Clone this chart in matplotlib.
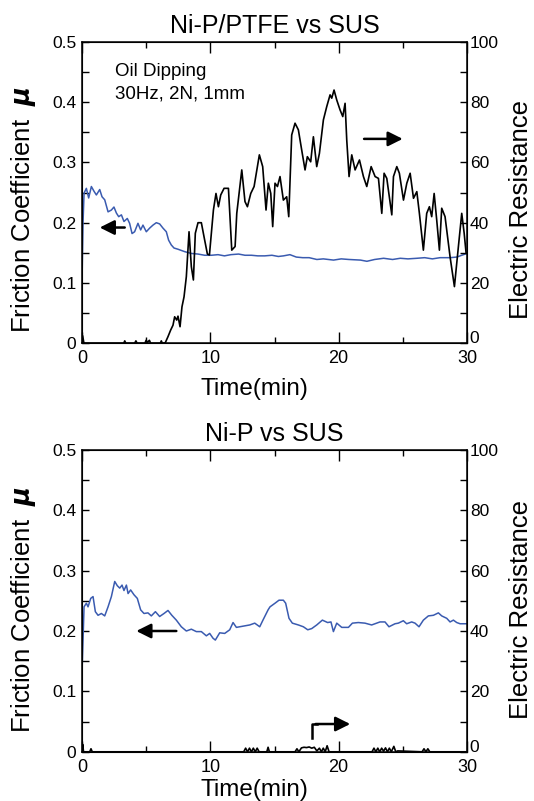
import matplotlib
matplotlib.use("Agg")
import matplotlib.pyplot as plt
import matplotlib.transforms as mtrans
from matplotlib.ticker import MultipleLocator, FuncFormatter

plt.rcParams['font.family'] = ['Liberation Sans', 'DejaVu Sans']
plt.rcParams['mathtext.fontset'] = 'dejavusans'

# ---------------- data ----------------
titles = ["Ni-P/PTFE vs SUS", "Ni-P vs SUS"]
x_label = "Time(min)"
y_label_left = r"Friction Coefficient  $\boldsymbol{\mu}$"
y_label_right = "Electric Resistance"
note_lines = ["Oil Dipping", "30Hz, 2N, 1mm"]

# Top panel: Ni-P/PTFE vs SUS  -- friction coefficient (left axis)
ptfe_mu_time = [0, 0.08, 0.16, 0.34, 0.52, 0.73, 0.94, 1.12, 1.38, 1.56, 1.77, 2.03, 2.29, 2.49,
                2.68, 2.86, 3.07, 3.27, 3.53, 3.71, 3.9, 4.1, 4.36, 4.57, 4.75, 5.01, 5.27, 5.53,
                5.79, 6.05, 6.31, 6.57, 6.75, 6.96, 7.17, 7.48, 7.74, 8.0, 8.52, 9.04, 9.56, 10.08,
                10.6, 11.1, 11.6, 12.2, 12.7, 13.2, 13.7, 14.24, 14.8, 15.3, 15.7, 16.2, 16.7,
                17.2, 17.7, 18.3, 18.8, 19.6, 20.2, 20.8, 21.7, 22.2, 22.8, 23.5, 24.2, 24.8,
                25.4, 26.1, 26.7, 27.3, 27.9, 28.68, 29.2, 29.46, 30.0]
ptfe_mu = [0.10, 0.20, 0.249, 0.257, 0.241, 0.260, 0.252, 0.246, 0.255, 0.243, 0.238, 0.218, 0.221, 0.226,
           0.216, 0.210, 0.213, 0.202, 0.207, 0.199, 0.182, 0.185, 0.199, 0.188, 0.196, 0.185, 0.191, 0.196,
           0.200, 0.198, 0.191, 0.185, 0.171, 0.163, 0.158, 0.156, 0.154, 0.152, 0.149, 0.148, 0.146, 0.146,
           0.147, 0.145, 0.147, 0.148, 0.146, 0.146, 0.145, 0.145, 0.146, 0.144, 0.145, 0.147, 0.143,
           0.142, 0.142, 0.139, 0.140, 0.138, 0.140, 0.139, 0.138, 0.136, 0.139, 0.141, 0.139, 0.141,
           0.140, 0.141, 0.142, 0.140, 0.142, 0.142, 0.143, 0.145, 0.149]

# Top panel -- electric resistance (right axis)
ptfe_res_time = [0, 0.05, 0.15, 3.25, 3.33, 3.42, 4.1, 4.2, 4.3, 4.9, 5.0, 5.1, 5.25, 5.35, 6.1, 6.18,
                 6.26, 6.49, 6.7, 6.91, 7.09, 7.22, 7.38, 7.48, 7.64, 7.79, 7.95, 8.13, 8.34, 8.52,
                 8.68, 8.83, 9.04, 9.3, 9.51, 9.77, 9.93, 10.24, 10.44, 10.63, 10.81, 11.07, 11.41,
                 11.67, 11.93, 12.06, 12.21, 12.45, 12.7, 12.89, 13.15, 13.41, 13.82, 14.08, 14.34,
                 14.52, 14.71, 14.86, 15.04, 15.23, 15.43, 15.69, 15.95, 16.11, 16.34, 16.6, 16.86,
                 17.12, 17.38, 17.56, 17.82, 18.03, 18.29, 18.5, 18.81, 19.07, 19.33, 19.46, 19.64,
                 19.85, 20.11, 20.32, 20.5, 20.63, 20.81, 21.02, 21.28, 21.62, 21.93, 22.19, 22.53,
                 22.84, 23.1, 23.36, 23.54, 23.75, 24.14, 24.27, 24.53, 24.73, 25.05, 25.31, 25.57,
                 25.83, 26.09, 26.29, 26.6, 26.86, 27.07, 27.25, 27.44, 27.64, 27.85, 28.03, 28.29,
                 28.68, 29.02, 29.33, 29.59, 29.78, 29.93]
ptfe_res = [0, 2.5, 0, 0, 0.8, 0, 0, 0.8, 0, 0, 1.0, 0.3, 1.0, 0, 0, 0.8,
            0, 0.2, 2.2, 4.4, 6.0, 8.8, 7.7, 9.0, 5.5, 12.1, 15.4, 22.1, 37.0, 25.4,
            21.0, 36.5, 40.0, 40.0, 35.3, 29.6, 29.3, 44.2, 49.7, 45.3, 49.2, 51.4, 51.4,
            30.9, 32.1, 43.1, 48.6, 57.5, 47.0, 45.3, 49.7, 52.0, 62.5, 58.6, 44.2,
            53.1, 49.7, 38.7, 53.1, 52.0, 55.3, 47.5, 48.6, 42.0, 69.1, 73.0, 70.8,
            64.1, 57.5, 61.9, 60.2, 68.5, 58.6, 63.0, 74.1, 78.5, 82.4, 81.3, 84.0,
            80.7, 77.4, 75.2, 79.6, 67.4, 55.3, 62.5, 57.5, 60.8, 55.3, 52.0, 58.6,
            55.3, 54.7, 43.1, 56.4, 54.7, 42.6, 55.3, 58.6, 56.4, 47.5, 53.1, 56.4,
            48.1, 50.3, 43.1, 30.9, 43.1, 45.3, 42.0, 49.7, 40.9, 30.9, 44.8, 42.0,
            28.7, 18.8, 32.1, 43.1, 36.5, 29.9]

# Bottom panel: Ni-P vs SUS -- friction coefficient (left axis)
nip_mu_time = [0, 0.16, 0.34, 0.47, 0.68, 0.86, 1.04, 1.25, 1.51, 1.77, 2.03, 2.29, 2.55, 2.75, 2.94,
               3.12, 3.27, 3.46, 3.59, 3.79, 4.05, 4.31, 4.57, 4.83, 5.14, 5.4, 5.72, 6.05, 6.39,
               6.7, 7.0, 7.35, 7.74, 8.13, 8.52, 8.91, 9.3, 9.69, 9.95, 10.21, 10.39, 10.73, 11.12,
               11.51, 11.77, 12.03, 12.55, 13.07, 13.46, 13.85, 14.1, 14.5, 14.65, 15.04, 15.35,
               15.69, 15.87, 16.13, 16.39, 16.86, 17.25, 17.59, 17.9, 18.29, 18.73, 19.14, 19.4,
               19.59, 19.85, 20.24, 20.76, 21.07, 21.53, 22.05, 22.57, 23.22, 23.61, 23.92, 24.39,
               24.65, 25.04, 25.3, 25.69, 25.95, 26.26, 26.6, 26.99, 27.38, 27.77, 28.03, 28.42,
               28.68, 28.94, 29.2, 29.46, 30.0]
nip_mu = [0.13, 0.24, 0.246, 0.24, 0.254, 0.257, 0.232, 0.226, 0.229, 0.225, 0.24, 0.257, 0.282, 0.275, 0.271,
          0.276, 0.267, 0.276, 0.262, 0.268, 0.26, 0.254, 0.235, 0.229, 0.23, 0.225, 0.232, 0.224, 0.229,
          0.234, 0.226, 0.218, 0.207, 0.2, 0.203, 0.199, 0.199, 0.192, 0.196, 0.188, 0.185, 0.197, 0.196,
          0.202, 0.214, 0.206, 0.208, 0.21, 0.213, 0.207, 0.218, 0.235, 0.24, 0.246, 0.251,
          0.251, 0.246, 0.221, 0.213, 0.21, 0.207, 0.202, 0.204, 0.21, 0.218, 0.214, 0.215,
          0.199, 0.213, 0.206, 0.206, 0.213, 0.214, 0.213, 0.21, 0.215, 0.215, 0.207, 0.212,
          0.213, 0.217, 0.212, 0.215, 0.213, 0.207, 0.218, 0.225, 0.226, 0.23, 0.225, 0.221,
          0.215, 0.218, 0.214, 0.212, 0.212]

# Bottom panel -- electric resistance (right axis), mostly zero with small blips
nip_res_time = [0, 0.05, 0.12, 0.6, 0.7, 0.8, 12.6, 12.75, 12.9, 13.05, 13.2, 13.35, 13.5, 13.65,
                13.8, 14.4, 14.5, 14.6, 16.6, 16.75, 16.9, 17.1, 17.3, 17.5, 17.7, 17.9, 18.1,
                18.3, 18.5, 18.65, 18.8, 18.95, 19.1, 19.25, 22.6, 22.75, 22.9, 23.05, 23.2, 23.35,
                23.5, 23.65, 23.8, 23.95, 24.1, 24.3, 24.45, 24.6, 26.5, 26.65, 26.8, 26.95, 27.1,
                27.25, 30.0]
nip_res = [0, 2.5, 0, 0, 1.0, 0, 0, 1.2, 0, 1.2, 0, 1.2, 0, 1.2,
           0, 0, 1.5, 0, 0, 1.0, 0, 1.3, 1.5, 1.4, 1.6, 1.2, 1.5,
           0.3, 1.2, 0, 1.2, 0, 2.0, 0, 0, 1.2, 0, 1.2, 0, 1.2,
           0.2, 1.3, 0, 1.2, 0, 1.8, 0, 0.3, 0, 1.0, 0, 1.0, 0,
           0, 0]

panels = [
    dict(title=titles[0], mu_t=ptfe_mu_time, mu=ptfe_mu, r_t=ptfe_res_time, r=ptfe_res),
    dict(title=titles[1], mu_t=nip_mu_time, mu=nip_mu, r_t=nip_res_time, r=nip_res),
]

BLUE = "#3a5bb0"
W, H = 534, 801
fig = plt.figure(figsize=(W / 100, H / 100), dpi=100)

ax_rects = [
    [82 / W, 1 - 343.3 / H, 385 / W, 301.5 / H],
    [82 / W, 1 - 751.8 / H, 385 / W, 302 / H],
]
ylabel_y = [0.445, 0.47]
xlabel_y = [-0.15, -0.128]

fmt_left = FuncFormatter(lambda v, p: "0" if abs(v) < 1e-9 else f"{v:.1f}")
fmt_right = FuncFormatter(lambda v, p: f"{v:.0f}")

axes = []
for i, (rect, pnl) in enumerate(zip(ax_rects, panels)):
    ax = fig.add_axes(rect)
    ax.plot(pnl["mu_t"], pnl["mu"], color=BLUE, lw=1.1)
    ax.set_xlim(0, 30)
    ax.set_ylim(0, 0.5)
    ax.xaxis.set_major_locator(MultipleLocator(10))
    ax.xaxis.set_minor_locator(MultipleLocator(5))
    ax.yaxis.set_major_locator(MultipleLocator(0.1))
    ax.yaxis.set_minor_locator(MultipleLocator(0.05))
    ax.yaxis.set_major_formatter(fmt_left)
    ax.tick_params(axis="x", which="major", direction="in", top=True, length=8, width=1.0,
                   labelsize=13, pad=5)
    ax.tick_params(axis="x", which="minor", direction="in", top=True, length=4, width=1.0)
    ax.tick_params(axis="y", which="both", direction="in", right=False, length=5, width=1.0,
                   labelsize=12.5, pad=4)
    for s in ax.spines.values():
        s.set_linewidth(1.1)
    ax.set_title(pnl["title"], fontsize=18, pad=6)
    ax.set_xlabel(x_label, fontsize=17.5)
    ax.xaxis.set_label_coords(0.448, xlabel_y[i])
    ax.xaxis.label.set_verticalalignment("center")
    ax.set_ylabel(y_label_left, fontsize=18.5)
    ax.yaxis.label.set_rotation_mode("default")
    ax.yaxis.label.set_verticalalignment("center")
    ax.yaxis.label.set_horizontalalignment("center")
    ax.yaxis.set_label_coords(-0.153, ylabel_y[i])

    tw = ax.twinx()
    tw.plot(pnl["r_t"], pnl["r"], color="black", lw=1.2)
    tw.set_ylim(0, 100)
    tw.yaxis.set_major_locator(MultipleLocator(20))
    tw.yaxis.set_minor_locator(MultipleLocator(10))
    tw.yaxis.set_major_formatter(fmt_right)
    tw.tick_params(axis="y", which="both", direction="in", length=5, width=1.0,
                   labelsize=12.5, pad=2)
    tw.set_ylabel(y_label_right, fontsize=18.5)
    tw.yaxis.label.set_rotation_mode("default")
    tw.yaxis.label.set_verticalalignment("center")
    tw.yaxis.label.set_horizontalalignment("center")
    tw.yaxis.set_label_coords(1.14, ylabel_y[i])
    axes.append((ax, tw))

arrow_kw = dict(arrowstyle="-|>", mutation_scale=22, lw=1.8, color="black",
                shrinkA=0, shrinkB=0)

# Top panel annotations
ax0, tw0 = axes[0]
ax0.text(2.55, 0.45, note_lines[0], fontsize=13.5, ha="left", va="center")
ax0.text(2.55, 0.413, note_lines[1], fontsize=13.5, ha="left", va="center")
ax0.annotate("", xy=(1.38, 0.192), xytext=(3.33, 0.192), arrowprops=arrow_kw)
ax0.annotate("", xy=(24.99, 0.339), xytext=(21.98, 0.339), arrowprops=arrow_kw)

# Bottom panel annotations
ax1, tw1 = axes[1]
ax1.annotate("", xy=(4.23, 0.2), xytext=(7.35, 0.2), arrowprops=arrow_kw)
tw1.plot([17.9, 17.9, 18.3], [4.5, 9.2, 9.2], color="black", lw=1.8)
tw1.annotate("", xy=(20.9, 9.2), xytext=(18.2, 9.2), arrowprops=arrow_kw)

# raise the right-hand "0" tick labels a little so they sit above the "30" labels, as in the reference
fig.canvas.draw()
for _, tw in axes:
    for tk in tw.yaxis.get_major_ticks():
        if tk.label2.get_text() == "0":
            tk.label2.set_verticalalignment("bottom")
            tk.label2.set_transform(tk.label2.get_transform()
                                    + mtrans.ScaledTranslation(0, -2 / 72, fig.dpi_scale_trans))

fig.savefig("out.png", dpi=100)
